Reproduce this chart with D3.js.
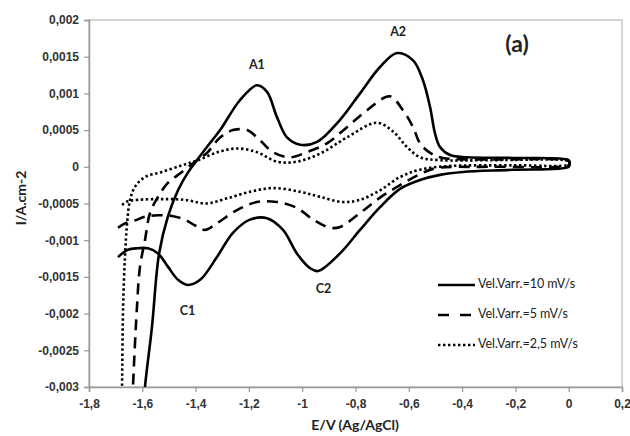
<!DOCTYPE html>
<html>
<head>
<meta charset="utf-8">
<script src="https://cdn.jsdelivr.net/npm/d3@7"></script>
<style>
  body { margin: 0; background: #fff; }
  svg { font-family: Lato, "Open Sans", sans-serif; }
  .tick text { font-size: 12px; font-weight: bold; fill: #333; }
  .curve { fill: none; stroke: #000; stroke-width: 2.6px; }
</style>
</head>
<body>
<svg id="svgId" width="630" height="436"></svg>
<script>
const svg = d3.select("svg");

// [E (V), I (A/cm2)], lower branch then upper branch
const v10 = [[-1.691,-0.00123],[-1.654,-0.00113],[-1.616,-0.00111],[-1.579,-0.00111],[-1.541,-0.00118],[-1.504,-0.00136],
  [-1.466,-0.00154],[-1.429,-0.00161],[-1.383,-0.00154],[-1.32,-0.00123],[-1.26,-0.0009],[-1.196,-0.00072],[-1.132,-0.0007],
  [-1.072,-0.00086],[-1.02,-0.00118],[-0.971,-0.00138],[-0.94,-0.00142],[-0.858,-0.00118],[-0.783,-0.00086],[-0.708,-0.00055],
  [-0.633,-0.0003],[-0.558,-0.00018],[-0.483,-0.00011],[-0.397,-0.00007],[-0.209,-0.00004],[0,0],
  [0.004,0.00005],[0,0.00009],[-0.209,0.00012],[-0.382,0.00013],[-0.445,0.00016],[-0.483,0.00027],[-0.502,0.00046],[-0.52,0.00081],
  [-0.547,0.00118],[-0.584,0.00145],[-0.644,0.00155],[-0.708,0.00136],[-0.783,0.001],[-0.858,0.00064],[-0.944,0.00034],
  [-1.008,0.0003],[-1.057,0.0004],[-1.095,0.00068],[-1.132,0.00102],[-1.17,0.00111],[-1.233,0.00091],[-1.308,0.0005],
  [-1.338,0.00036],[-1.395,0.00009],[-1.429,-0.00008],[-1.466,-0.00032],[-1.504,-0.00068],[-1.537,-0.00118],[-1.564,-0.00219],
  [-1.59,-0.003],[-1.6,-0.0035]];

const v5 = [[-1.691,-0.00083],[-1.665,-0.00077],[-1.627,-0.00073],[-1.59,-0.00068],[-1.541,-0.00066],[-1.489,-0.00067],
  [-1.44,-0.00072],[-1.402,-0.0008],[-1.365,-0.00086],[-1.32,-0.00077],[-1.245,-0.00059],[-1.17,-0.00048],[-1.095,-0.00048],
  [-1.02,-0.00056],[-0.959,-0.00072],[-0.896,-0.00083],[-0.858,-0.00082],[-0.783,-0.00063],[-0.708,-0.00042],[-0.633,-0.00025],
  [-0.558,-0.0001],[-0.5,-0.00002],[-0.3,0],[0,0.00002],
  [0.003,0.00005],[0,0.00008],[-0.3,0.0001],[-0.472,0.00012],[-0.52,0.00019],[-0.558,0.00032],[-0.584,0.00054],[-0.622,0.00077],
  [-0.671,0.00096],[-0.757,0.00077],[-0.832,0.00054],[-0.907,0.00032],[-0.982,0.0002],[-1.046,0.00013],[-1.11,0.0002],
  [-1.158,0.00036],[-1.207,0.0005],[-1.26,0.0005],[-1.308,0.0004],[-1.357,0.00019],[-1.395,0.00009],[-1.451,-0.00007],
  [-1.504,-0.00022],[-1.541,-0.00041],[-1.571,-0.00063],[-1.59,-0.001],[-1.609,-0.00137],[-1.62,-0.00191],[-1.635,-0.003],
  [-1.64,-0.0035]];

const v25 = [[-1.676,-0.00052],[-1.654,-0.00047],[-1.616,-0.00045],[-1.526,-0.00044],[-1.44,-0.00045],[-1.36,-0.0005],
  [-1.282,-0.00043],[-1.196,-0.00034],[-1.11,-0.00029],[-1.008,-0.00034],[-0.933,-0.00041],[-0.847,-0.00048],[-0.783,-0.00045],
  [-0.708,-0.00032],[-0.633,-0.00014],[-0.558,-0.00004],[-0.45,0.00001],[-0.2,0.00002],[0,0.00003],
  [0.003,0.00006],[0,0.00008],[-0.3,0.00009],[-0.483,0.00009],[-0.558,0.00013],[-0.607,0.00027],[-0.659,0.00048],[-0.72,0.0006],
  [-0.832,0.0004],[-0.933,0.00018],[-1.02,0.00007],[-1.095,0.00007],[-1.17,0.0002],[-1.245,0.00025],[-1.316,0.0002],
  [-1.391,0.00009],[-1.451,0.00002],[-1.526,-0.00007],[-1.59,-0.00014],[-1.627,-0.00027],[-1.646,-0.00045],[-1.657,-0.00077],
  [-1.665,-0.00123],[-1.672,-0.00191],[-1.676,-0.003],[-1.678,-0.0035]];

const seriesNames = ["Vel.Varr.=10 mV/s", "Vel.Varr.=5 mV/s", "Vel.Varr.=2,5 mV/s"];
const xTicks = [-1.8, -1.6, -1.4, -1.2, -1, -0.8, -0.6, -0.4, -0.2, 0, 0.2];
const yTicks = [0.002, 0.0015, 0.001, 0.0005, 0, -0.0005, -0.001, -0.0015, -0.002, -0.0025, -0.003];
const peakLabels = [["A1", -1.17, 0.00133], ["A2", -0.64, 0.00178], ["C1", -1.43, -0.00202], ["C2", -0.92, -0.00172]];

const mLeft = 89, mRight = 622, mTop = 20, mBottom = 387;
const x = d3.scaleLinear().domain([-1.8, 0.2]).range([mLeft, mRight]);
const y = d3.scaleLinear().domain([-0.003, 0.002]).range([mBottom, mTop]);

const fmt = d => String(+d.toPrecision(6)).replace(".", ",");

svg.append("defs").append("clipPath").attr("id", "plotClip")
  .append("rect").attr("x", mLeft).attr("y", mTop).attr("width", mRight - mLeft).attr("height", mBottom - mTop);

// plot frame
svg.append("rect")
  .attr("x", mLeft).attr("y", mTop).attr("width", mRight - mLeft).attr("height", mBottom - mTop)
  .attr("fill", "none").attr("stroke", "#c8c8c8").attr("stroke-width", 1.5);

const xAxis = svg.append("g")
  .attr("transform", `translate(0,${mBottom})`)
  .call(d3.axisBottom(x).tickValues(xTicks).tickFormat(fmt).tickSize(5).tickPadding(7));
const yAxis = svg.append("g")
  .attr("transform", `translate(${mLeft},0)`)
  .call(d3.axisLeft(y).tickValues(yTicks).tickFormat(fmt).tickSize(5).tickPadding(5));
[xAxis, yAxis].forEach(a => {
  a.select(".domain").attr("stroke", "#999").attr("stroke-width", 1.5);
  a.selectAll(".tick line").attr("stroke", "#999").attr("stroke-width", 1.2);
});

const line = d3.line()
  .x(d => x(d[0]))
  .y(d => y(d[1]))
  .curve(d3.curveCatmullRom.alpha(0.5));

const dashes = [null, "11,7", "2.4,2.6"];
const curves = svg.append("g").attr("clip-path", "url(#plotClip)");
[v10, v5, v25].forEach((s, i) => {
  curves.append("path")
    .datum(s)
    .attr("class", "curve")
    .attr("d", line)
    .attr("stroke-dasharray", dashes[i]);
});

// peak labels
svg.append("g").selectAll("text")
  .data(peakLabels)
  .enter()
  .append("text")
  .attr("x", d => x(d[1]))
  .attr("y", d => y(d[2]))
  .attr("text-anchor", "middle")
  .style("font-size", "12.5px")
  .style("font-weight", "bold")
  .style("fill", "#222")
  .text(d => d[0]);

svg.append("text")
  .attr("x", 517).attr("y", 52)
  .attr("text-anchor", "middle")
  .style("font-size", "23px").style("font-weight", "bold").style("fill", "#222")
  .text("(a)");

// legend
const legend = svg.append("g");
seriesNames.forEach((name, i) => {
  const ly = 285 + i * 30;
  legend.append("line")
    .attr("x1", 438).attr("x2", 475).attr("y1", ly).attr("y2", ly)
    .attr("stroke", "#000").attr("stroke-width", 2.6)
    .attr("stroke-dasharray", i === 1 ? "11,11" : dashes[i]);
  legend.append("text")
    .attr("x", 478).attr("y", ly)
    .attr("dominant-baseline", "middle")
    .style("font-size", "12.5px").style("fill", "#222")
    .text(name);
});

// axis titles
svg.append("text")
  .attr("x", 355).attr("y", 430)
  .attr("text-anchor", "middle")
  .style("font-size", "14px").style("font-weight", "bold").style("fill", "#222")
  .text("E/V (Ag/AgCl)");
svg.append("text")
  .attr("transform", "translate(26,198) rotate(-90)")
  .attr("text-anchor", "middle")
  .style("font-size", "14px").style("font-weight", "bold").style("fill", "#222")
  .text("I/A.cm-2");
</script>
</body>
</html>
